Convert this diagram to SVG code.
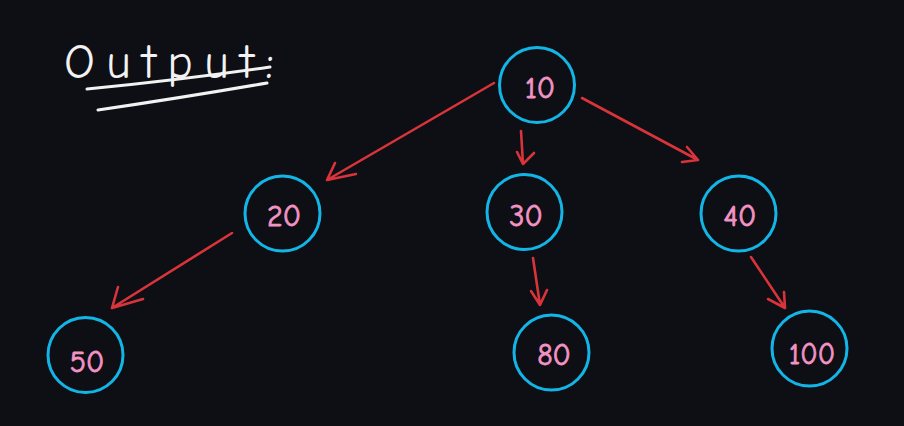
<svg xmlns="http://www.w3.org/2000/svg" width="904" height="426" viewBox="0 0 904 426">
<style>
.node circle{fill:none;stroke:#13b5e6;stroke-width:3}
.node text{font-family:"Comic Neue","Liberation Sans",sans-serif;font-size:30px;fill:#f293c4;stroke:#f293c4;stroke-width:0.8;text-anchor:middle;dominant-baseline:central}
.edge{fill:none;stroke:#d8343a;stroke-width:2.6;stroke-linecap:round;stroke-linejoin:round}
.title{font-family:"Comic Neue","Liberation Sans",sans-serif;font-size:48px;fill:#f2f2f2}
.ul{fill:none;stroke:#f2f2f2;stroke-width:3;stroke-linecap:round}
</style>
<rect width="904" height="426" fill="#0e0f15"/>
<g id="title">
<text class="title" x="64" y="78" textLength="210" lengthAdjust="spacing">Output:</text>
<path class="ul" d="M87 89 Q180 80 270 67"/>
<path class="ul" d="M98 110 Q180 98 267 83"/>
</g>
<g id="connectors">
<path class="edge" d="M494 83 L327 180 M335 163 L327 180 L356 174"/>
<path class="edge" d="M521 131 L523 164 M517 152 L523 164 L534 153"/>
<path class="edge" d="M582 98 L698 160 M687 147 L698 160 L682 162"/>
<path class="edge" d="M232 233 L112 308 M118 287 L112 308 L143 299"/>
<path class="edge" d="M533 258 L540 305 M531 291 L540 305 L547 290"/>
<path class="edge" d="M751 257 L785 308 M768 299 L785 308 L784 292"/>
</g>
<g id="n10" class="node"><circle cx="537" cy="85" r="37.5"/><text x="540" y="88">10</text></g>
<g id="n20" class="node"><circle cx="282.5" cy="213.5" r="37.5"/><text x="284" y="216">20</text></g>
<g id="n30" class="node"><circle cx="524.5" cy="212" r="37.5"/><text x="526" y="216">30</text></g>
<g id="n40" class="node"><circle cx="738.5" cy="213.5" r="37.5"/><text x="740" y="216">40</text></g>
<g id="n50" class="node"><circle cx="85.5" cy="355" r="37.5"/><text x="87" y="362">50</text></g>
<g id="n80" class="node"><circle cx="551.5" cy="352.5" r="37.5"/><text x="554" y="355">80</text></g>
<g id="n100" class="node"><circle cx="809.5" cy="348.5" r="37.5"/><text x="812" y="354" textLength="46" lengthAdjust="spacingAndGlyphs">100</text></g>
</svg>
